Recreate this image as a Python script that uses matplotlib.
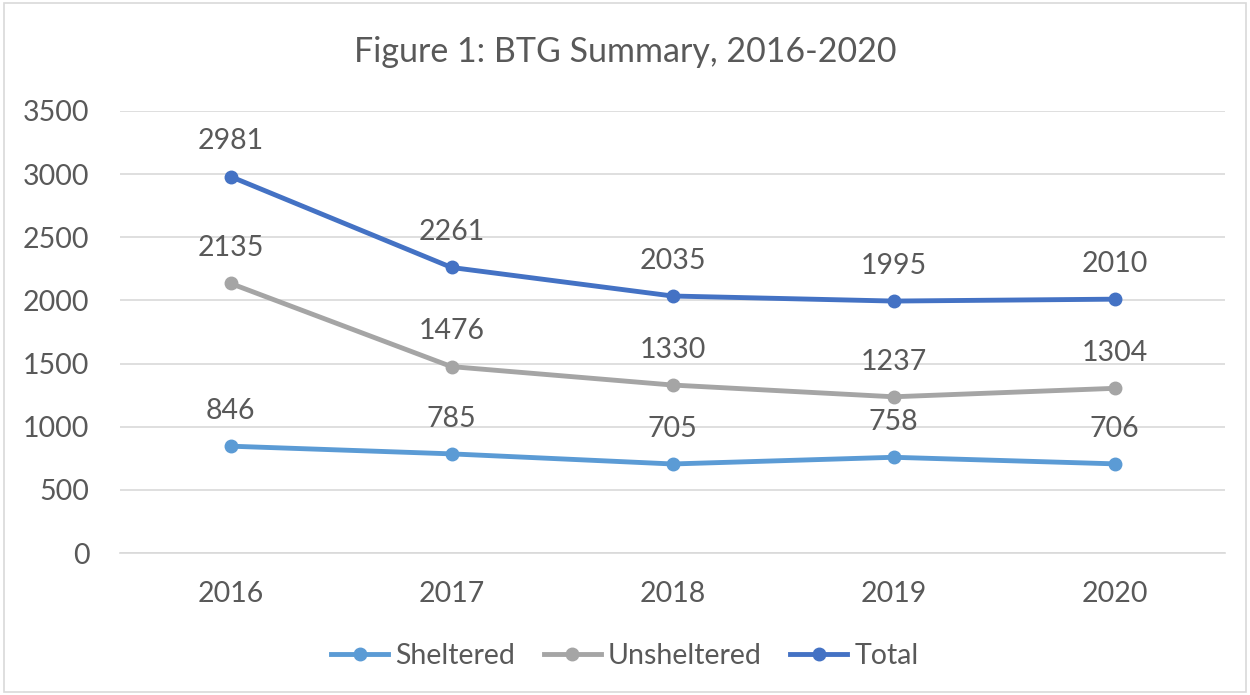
import matplotlib
matplotlib.use("Agg")
import matplotlib.pyplot as plt
from matplotlib.patches import Rectangle

years = ["2016", "2017", "2018", "2019", "2020"]
sheltered = [846, 785, 705, 758, 706]
unsheltered = [2135, 1476, 1330, 1237, 1304]
total = [2981, 2261, 2035, 1995, 2010]
series_names = ["Sheltered", "Unsheltered", "Total"]
colors = ["#5B9BD5", "#A5A5A5", "#4472C4"]
yticks = [0, 500, 1000, 1500, 2000, 2500, 3000, 3500]

plt.rcParams['font.family'] = ['Lato', 'DejaVu Sans']
txt = "#595959"

fig = plt.figure(figsize=(12.5, 6.95), dpi=100)
ax = fig.add_axes([0.096, 0.2043, 0.884, 0.636])

x = list(range(len(years)))
for vals, name, c in zip([sheltered, unsheltered, total], series_names, colors):
    ax.plot(x, vals, color=c, lw=3.5, marker='o', ms=9, label=name, zorder=3)
    for xi, v in zip(x, vals):
        ax.annotate(str(v), (xi, v), xytext=(0, 16), textcoords='offset points',
                    ha='center', va='bottom', fontsize=20.5, color=txt)

ax.set_xlim(-0.5, len(years) - 0.5)
ax.set_ylim(0, 3500)
ax.set_yticks(yticks)
ax.set_xticks(x)
ax.set_xticklabels(years)
ax.yaxis.grid(True, color="#D9D9D9", lw=1.2)
ax.set_axisbelow(True)
for s in ["top", "right", "left"]:
    ax.spines[s].set_visible(False)
ax.spines["bottom"].set_color("#D9D9D9")
ax.spines["bottom"].set_linewidth(1.2)
ax.tick_params(axis='both', length=0, labelsize=20.5, labelcolor=txt)
ax.tick_params(axis='x', pad=20)
ax.tick_params(axis='y', pad=22)

fig.text(0.5, 0.925, "Figure 1: BTG Summary, 2016-2020", ha='center', va='center',
         fontsize=24.5, color=txt)

fig.legend(loc='center', bbox_to_anchor=(0.5, 0.056), ncol=3, frameon=False,
           fontsize=20.5, labelcolor=txt, handlelength=2.0, columnspacing=1.0,
           handletextpad=0.25)

fig.patches.append(Rectangle((0.003, 0.005), 0.994, 0.99, transform=fig.transFigure,
                             fill=False, edgecolor="#D9D9D9", lw=1.2))

fig.savefig("out.png", dpi=100)
